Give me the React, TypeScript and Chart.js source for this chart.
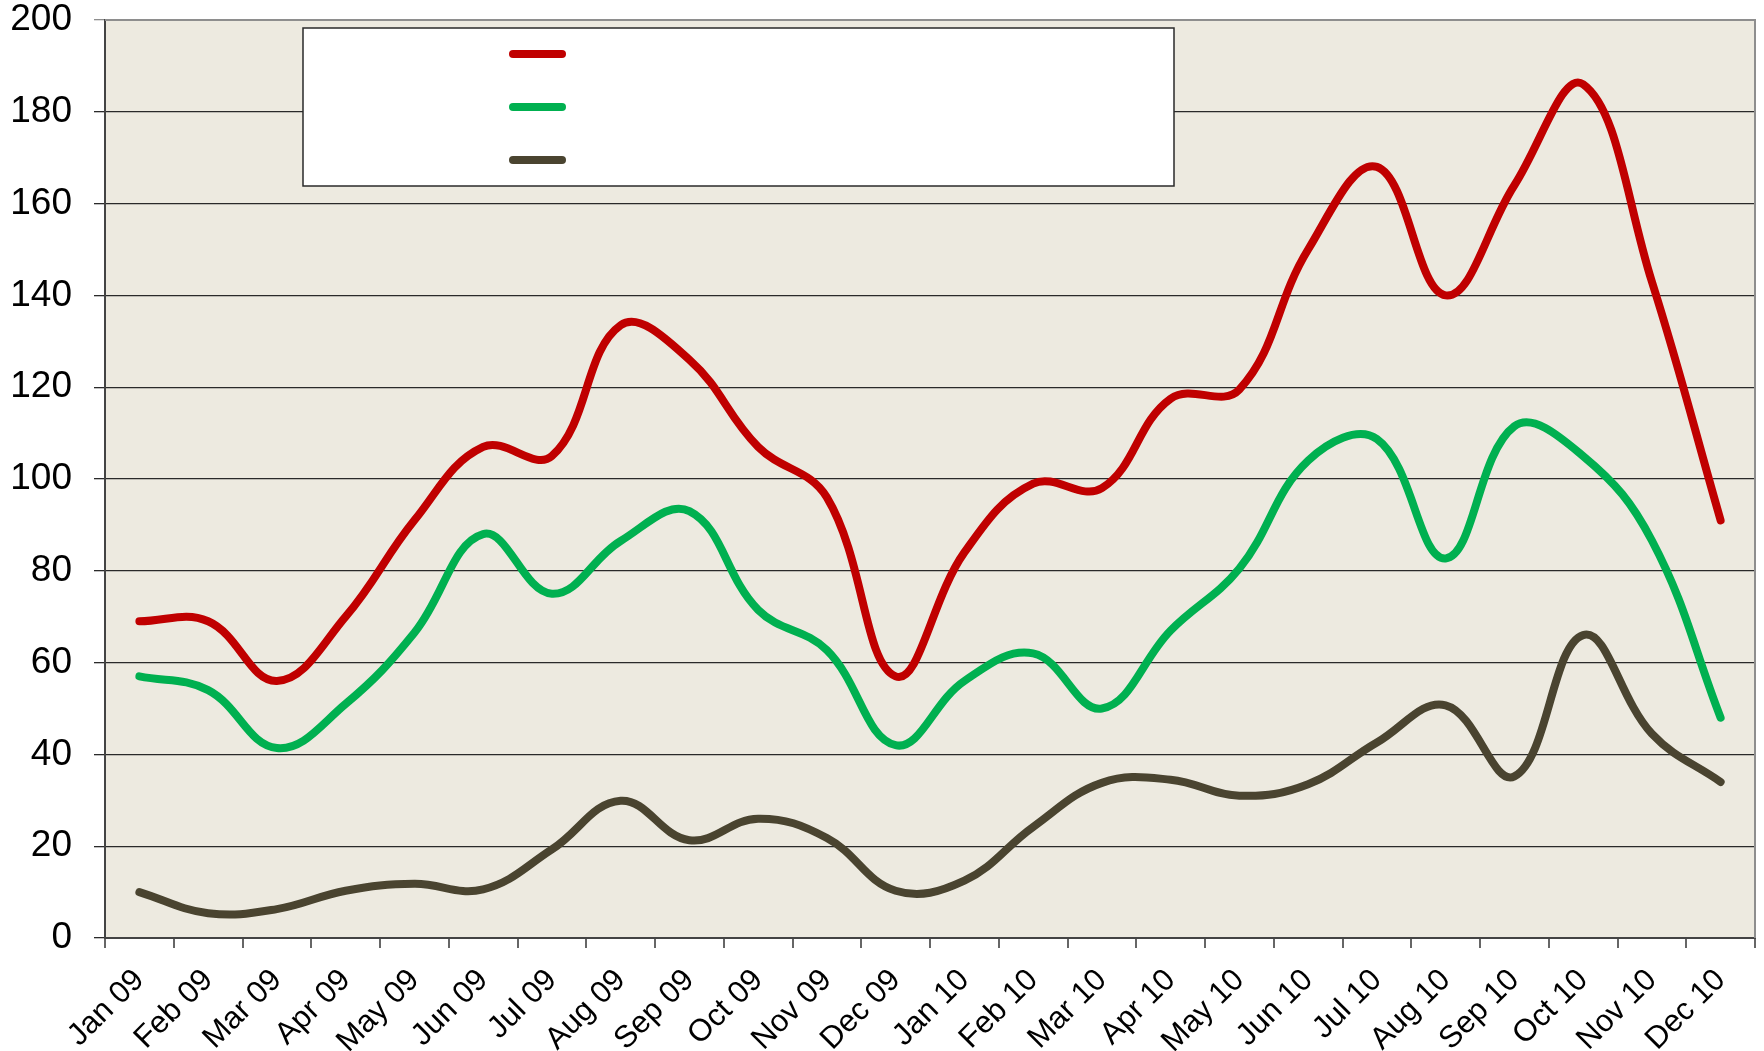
import React, { useEffect, useRef } from "react";
import { Chart, registerables } from "chart.js";

Chart.register(...registerables);

const categories = [
  "Jan 09", "Feb 09", "Mar 09", "Apr 09", "May 09", "Jun 09", "Jul 09", "Aug 09",
  "Sep 09", "Oct 09", "Nov 09", "Dec 09", "Jan 10", "Feb 10", "Mar 10", "Apr 10",
  "May 10", "Jun 10", "Jul 10", "Aug 10", "Sep 10", "Oct 10", "Nov 10", "Dec 10",
];

const redSeries = [69, 69, 56, 70, 91, 107, 105, 133.5, 126, 107, 96, 57, 84, 99, 98, 117.5, 119.5, 150, 168, 140, 164, 186, 143, 91];
const greenSeries = [57, 54, 41.4, 51, 66.5, 88, 75, 86.5, 93, 71.5, 62.7, 42, 56, 62, 50, 67, 80.5, 104, 108.7, 82.7, 111.5, 105, 86.6, 48];
const darkSeries = [10, 5.4, 6.3, 10.3, 11.8, 10.6, 19.3, 29.9, 21.3, 26, 21.8, 10.3, 12.5, 24.2, 33.8, 34.5, 31, 33.5, 42.6, 50.7, 35.2, 66, 44.5, 34];

const yTickValues = [0, 20, 40, 60, 80, 100, 120, 140, 160, 180, 200];

const seriesColors = ["#c00000", "#00b050", "#4a4430"];

const FONT = "Arial, 'Liberation Sans', sans-serif";

const frameAndLegend = {
  id: "frameAndLegend",
  beforeDraw(chart: any) {
    const { ctx, chartArea } = chart;
    ctx.save();
    ctx.fillStyle = "#edeae0";
    ctx.fillRect(chartArea.left, chartArea.top, chartArea.right - chartArea.left, chartArea.bottom - chartArea.top);
    ctx.restore();
  },
  afterDatasetsDraw(chart: any) {
    const { ctx, chartArea } = chart;
    ctx.save();
    ctx.strokeStyle = "#8e8e8e";
    ctx.lineWidth = 2;
    ctx.beginPath();
    ctx.moveTo(chartArea.left, chartArea.top);
    ctx.lineTo(chartArea.right, chartArea.top);
    ctx.lineTo(chartArea.right, chartArea.bottom);
    ctx.stroke();
    const lx = 303, ly = 28, lw = 871, lh = 158;
    ctx.fillStyle = "#ffffff";
    ctx.fillRect(lx, ly, lw, lh);
    ctx.strokeStyle = "#2a2a2a";
    ctx.lineWidth = 1.5;
    ctx.strokeRect(lx, ly, lw, lh);
    const ys = [54, 107, 160];
    chart.data.datasets.forEach((ds: any, i: number) => {
      ctx.strokeStyle = ds.borderColor;
      ctx.lineWidth = 8;
      ctx.lineCap = "round";
      ctx.beginPath();
      ctx.moveTo(513, ys[i]);
      ctx.lineTo(562, ys[i]);
      ctx.stroke();
    });
    ctx.restore();
  },
};

export default function App() {
  const canvasRef = useRef<HTMLCanvasElement | null>(null);

  useEffect(() => {
    if (!canvasRef.current) return;
    const mk = (label: string, data: number[], color: string) => ({
      label,
      data,
      borderColor: color,
      backgroundColor: color,
      borderWidth: 8,
      borderCapStyle: "round" as const,
      borderJoinStyle: "round" as const,
      pointRadius: 0,
      tension: 0.4,
      fill: false,
    });
    const chart = new Chart(canvasRef.current, {
      type: "line",
      data: {
        labels: categories,
        datasets: [
          mk("", redSeries, seriesColors[0]),
          mk("", greenSeries, seriesColors[1]),
          mk("", darkSeries, seriesColors[2]),
        ],
      },
      plugins: [frameAndLegend],
      options: {
        responsive: false,
        animation: false,
        layout: { padding: { left: 0, top: 20, right: 9, bottom: 0 } },
        plugins: { legend: { display: false }, tooltip: { enabled: false } },
        scales: {
          x: {
            type: "category",
            offset: true,
            grid: {
              display: true,
              drawOnChartArea: false,
              drawTicks: true,
              tickLength: 10,
              offset: true,
              color: "#666666",
              lineWidth: 2,
            },
            border: { display: true, color: "#444444", width: 2 },
            ticks: {
              autoSkip: false,
              minRotation: 45,
              maxRotation: 45,
              padding: 14,
              color: "#000000",
              font: { family: FONT, size: 31 },
            },
            afterFit(scale: any) {
              scale.height = 113;
              scale.paddingLeft = 0;
              scale.paddingRight = 0;
            },
          },
          y: {
            min: 0,
            max: 200,
            afterBuildTicks(scale: any) {
              scale.ticks = yTickValues.map((v) => ({ value: v }));
            },
            grid: {
              color: (c: any) => (c.tick && c.tick.value === 200 ? "#8e8e8e" : "#2a2a2a"),
              lineWidth: 1.3,
              tickLength: 11,
            },
            border: { display: true, color: "#444444", width: 2 },
            ticks: {
              padding: 22,
              color: "#000000",
              font: { family: FONT, size: 37 },
            },
            afterFit(scale: any) {
              scale.width = 105;
              scale.paddingTop = 0;
              scale.paddingBottom = 0;
            },
          },
        },
      },
    });
    return () => chart.destroy();
  }, []);

  return (
    <div style={{ position: "fixed", left: 0, top: 0, width: 1764, height: 1051, background: "#ffffff" }}>
      <canvas ref={canvasRef} width={1764} height={1051} style={{ display: "block" }} />
    </div>
  );
}
